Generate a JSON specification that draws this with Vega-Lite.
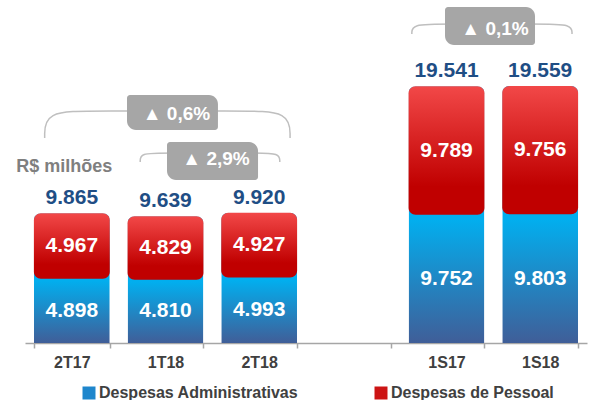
{
  "$schema": "https://vega.github.io/schema/vega-lite/v6.json",
  "width": 562,
  "height": 343,
  "autosize": {"type": "none"},
  "padding": {"left": 25, "top": 0, "right": 3, "bottom": 57},
  "config": {
    "view": {"stroke": null},
    "font": "Liberation Sans",
    "locale": {"number": {"decimal": ",", "thousands": ".", "grouping": [3], "currency": ["R$ ", ""]}},
    "legend": {
      "orient": "none",
      "legendX": 56,
      "legendY": 385,
      "direction": "horizontal",
      "columns": 2,
      "columnPadding": 74,
      "padding": 0,
      "title": null,
      "symbolType": "square",
      "symbolSize": 169,
      "symbolStrokeWidth": 0,
      "symbolOpacity": 1,
      "labelFont": "Liberation Sans",
      "labelFontSize": 16,
      "labelFontWeight": "bold",
      "labelColor": "#404040",
      "labelOffset": 2,
      "labelLimit": 400
    }
  },
  "datasets": {
    "gastos": [
      {"periodo": "2T17", "admin": 4898, "pessoal": 4967, "total": 9865},
      {"periodo": "1T18", "admin": 4810, "pessoal": 4829, "total": 9639},
      {"periodo": "2T18", "admin": 4993, "pessoal": 4927, "total": 9920},
      {"periodo": "1S17", "admin": 9752, "pessoal": 9789, "total": 19541},
      {"periodo": "1S18", "admin": 9803, "pessoal": 9756, "total": 19559}
    ],
    "chaves": [
      {"chave": "a", "ordem": 1, "x": 0.21, "y": 15600},
      {"chave": "a", "ordem": 2, "x": 0.21, "y": 17650},
      {"chave": "a", "ordem": 3, "x": 0.75, "y": 17650},
      {"chave": "a", "ordem": 4, "x": 2.30, "y": 17650},
      {"chave": "a", "ordem": 5, "x": 2.83, "y": 17650},
      {"chave": "a", "ordem": 6, "x": 2.83, "y": 15600},
      {"chave": "b", "ordem": 1, "x": 1.23, "y": 13770},
      {"chave": "b", "ordem": 2, "x": 1.23, "y": 14460},
      {"chave": "b", "ordem": 3, "x": 1.49, "y": 14460},
      {"chave": "b", "ordem": 4, "x": 2.46, "y": 14460},
      {"chave": "b", "ordem": 5, "x": 2.72, "y": 14460},
      {"chave": "b", "ordem": 6, "x": 2.72, "y": 13770},
      {"chave": "c", "ordem": 1, "x": 4.13, "y": 23510},
      {"chave": "c", "ordem": 2, "x": 4.13, "y": 24270},
      {"chave": "c", "ordem": 3, "x": 4.48, "y": 24270},
      {"chave": "c", "ordem": 4, "x": 5.50, "y": 24270},
      {"chave": "c", "ordem": 5, "x": 5.84, "y": 24270},
      {"chave": "c", "ordem": 6, "x": 5.84, "y": 23510}
    ],
    "caixas": [
      {"texto": "▲  0,6%", "x1": 1.089, "x2": 2.06, "y1": 16210, "y2": 18870, "xt": 1.617, "yt": 17390},
      {"texto": "▲  2,9%", "x1": 1.516, "x2": 2.488, "y1": 12400, "y2": 15290, "xt": 2.039, "yt": 14000},
      {"texto": "▲  0,1%", "x1": 4.484, "x2": 5.445, "y1": 22680, "y2": 25570, "xt": 5.018, "yt": 23890}
    ],
    "rotulos": [
      {"texto": "R$ milhões", "x": 0.42, "y": 13390}
    ]
  },
  "layer": [
    {
      "data": {"name": "gastos"},
      "layer": [
        {
          "mark": {"type": "bar", "cornerRadiusTopLeft": 7, "cornerRadiusTopRight": 7,
            "color": {"gradient": "linear", "x1": 0, "y1": 0, "x2": 0, "y2": 1, "stops": [{"offset": 0, "color": "#00B0F0"}, {"offset": 0.52, "color": "#02AEEE"}, {"offset": 1, "color": "#405E98"}]}},
          "encoding": {
            "x": {
              "field": "periodo", "type": "nominal", "title": null,
              "scale": {"domain": ["2T17", "1T18", "2T18", " ", "1S17", "1S18"], "paddingInner": 0.19, "paddingOuter": 0.095},
              "axis": {"labelAngle": 0, "domainColor": "#A6A6A6", "domainWidth": 1.5, "tickColor": "#A6A6A6", "tickWidth": 1.5, "tickBand": "extent", "tickSize": 5, "labelPadding": 6, "labelFont": "Liberation Sans", "labelFontSize": 16, "labelFontWeight": "bold", "labelColor": "#404040", "grid": false}
            },
            "y": {"field": "total", "type": "quantitative", "scale": {"domain": [0, 26100], "nice": false}, "axis": null}
          }
        },
        {
          "mark": {"type": "bar", "cornerRadius": 7,
            "color": {"gradient": "linear", "x1": 0, "y1": 0, "x2": 0, "y2": 1, "stops": [{"offset": 0, "color": "#F24848"}, {"offset": 0.78, "color": "#C00000"}, {"offset": 1, "color": "#C00000"}]}},
          "encoding": {
            "x": {
              "field": "periodo", "type": "nominal", "title": null,
              "scale": {"domain": ["2T17", "1T18", "2T18", " ", "1S17", "1S18"], "paddingInner": 0.19, "paddingOuter": 0.095},
              "axis": {"labelAngle": 0, "domainColor": "#A6A6A6", "domainWidth": 1.5, "tickColor": "#A6A6A6", "tickWidth": 1.5, "tickBand": "extent", "tickSize": 5, "labelPadding": 6, "labelFont": "Liberation Sans", "labelFontSize": 16, "labelFontWeight": "bold", "labelColor": "#404040", "grid": false}
            },
            "y": {"field": "total", "type": "quantitative", "scale": {"domain": [0, 26100], "nice": false}, "axis": null},
            "y2": {"field": "admin"}
          }
        },
        {
          "transform": [{"fold": ["admin", "pessoal"], "as": ["tipo", "valor"]}],
          "mark": {"type": "text", "font": "Liberation Sans", "fontSize": 21, "fontWeight": "bold", "color": "white", "baseline": "middle"},
          "encoding": {
            "x": {
              "field": "periodo", "type": "nominal", "title": null,
              "scale": {"domain": ["2T17", "1T18", "2T18", " ", "1S17", "1S18"], "paddingInner": 0.19, "paddingOuter": 0.095},
              "axis": {"labelAngle": 0, "domainColor": "#A6A6A6", "domainWidth": 1.5, "tickColor": "#A6A6A6", "tickWidth": 1.5, "tickBand": "extent", "tickSize": 5, "labelPadding": 6, "labelFont": "Liberation Sans", "labelFontSize": 16, "labelFontWeight": "bold", "labelColor": "#404040", "grid": false}
            },
            "y": {"field": "valor", "type": "quantitative", "stack": "zero", "bandPosition": 0.5, "scale": {"domain": [0, 26100], "nice": false}, "axis": null},
            "detail": {"field": "tipo"},
            "order": {"field": "tipo", "sort": "ascending"},
            "text": {"field": "valor", "type": "quantitative", "format": ",d"}
          }
        },
        {
          "mark": {"type": "text", "font": "Liberation Sans", "fontSize": 21, "fontWeight": "bold", "color": "#1F4E85", "baseline": "bottom", "dy": -5},
          "encoding": {
            "x": {
              "field": "periodo", "type": "nominal", "title": null,
              "scale": {"domain": ["2T17", "1T18", "2T18", " ", "1S17", "1S18"], "paddingInner": 0.19, "paddingOuter": 0.095},
              "axis": {"labelAngle": 0, "domainColor": "#A6A6A6", "domainWidth": 1.5, "tickColor": "#A6A6A6", "tickWidth": 1.5, "tickBand": "extent", "tickSize": 5, "labelPadding": 6, "labelFont": "Liberation Sans", "labelFontSize": 16, "labelFontWeight": "bold", "labelColor": "#404040", "grid": false}
            },
            "y": {"field": "total", "type": "quantitative", "scale": {"domain": [0, 26100], "nice": false}, "axis": null},
            "text": {"field": "total", "type": "quantitative", "format": ",d"}
          }
        }
      ]
    },
    {
      "layer": [
        {
          "data": {"name": "chaves"},
          "mark": {"type": "line", "interpolate": "basis", "color": "#BFBFBF", "strokeWidth": 1.5},
          "encoding": {
            "x": {"field": "x", "type": "quantitative", "scale": {"domain": [0, 6], "nice": false, "zero": false}, "axis": null},
            "y": {"field": "y", "type": "quantitative", "scale": {"domain": [0, 26100], "nice": false}, "axis": null},
            "detail": {"field": "chave"},
            "order": {"field": "ordem"}
          }
        },
        {
          "data": {"name": "caixas"},
          "mark": {"type": "rect", "color": "#A6A6A6", "cornerRadiusTopLeft": 3, "cornerRadiusBottomRight": 3, "cornerRadiusTopRight": 9, "cornerRadiusBottomLeft": 9},
          "encoding": {
            "x": {"field": "x1", "type": "quantitative", "scale": {"domain": [0, 6], "nice": false, "zero": false}, "axis": null},
            "x2": {"field": "x2"},
            "y": {"field": "y1", "type": "quantitative", "scale": {"domain": [0, 26100], "nice": false}, "axis": null},
            "y2": {"field": "y2"}
          }
        },
        {
          "data": {"name": "caixas"},
          "mark": {"type": "text", "font": "Liberation Sans", "fontSize": 19, "fontWeight": "bold", "color": "white", "baseline": "middle", "align": "center"},
          "encoding": {
            "x": {"field": "xt", "type": "quantitative", "scale": {"domain": [0, 6], "nice": false, "zero": false}, "axis": null},
            "y": {"field": "yt", "type": "quantitative", "scale": {"domain": [0, 26100], "nice": false}, "axis": null},
            "text": {"field": "texto"}
          }
        },
        {
          "data": {"name": "rotulos"},
          "mark": {"type": "text", "font": "Liberation Sans", "fontSize": 18, "fontWeight": "bold", "color": "#7F7F7F", "baseline": "middle", "align": "center"},
          "encoding": {
            "x": {"field": "x", "type": "quantitative", "scale": {"domain": [0, 6], "nice": false, "zero": false}, "axis": null},
            "y": {"field": "y", "type": "quantitative", "scale": {"domain": [0, 26100], "nice": false}, "axis": null},
            "text": {"field": "texto"}
          }
        },
        {
          "data": {"values": []},
          "mark": {"type": "square", "filled": true, "opacity": 1},
          "encoding": {
            "color": {
              "field": "tipo", "type": "nominal",
              "scale": {"domain": ["Despesas Administrativas", "Despesas de Pessoal"], "range": ["#1E86CC", "#CC1414"]}
            }
          }
        }
      ]
    }
  ],
  "resolve": {"scale": {"x": "independent"}, "axis": {"x": "independent"}}
}
